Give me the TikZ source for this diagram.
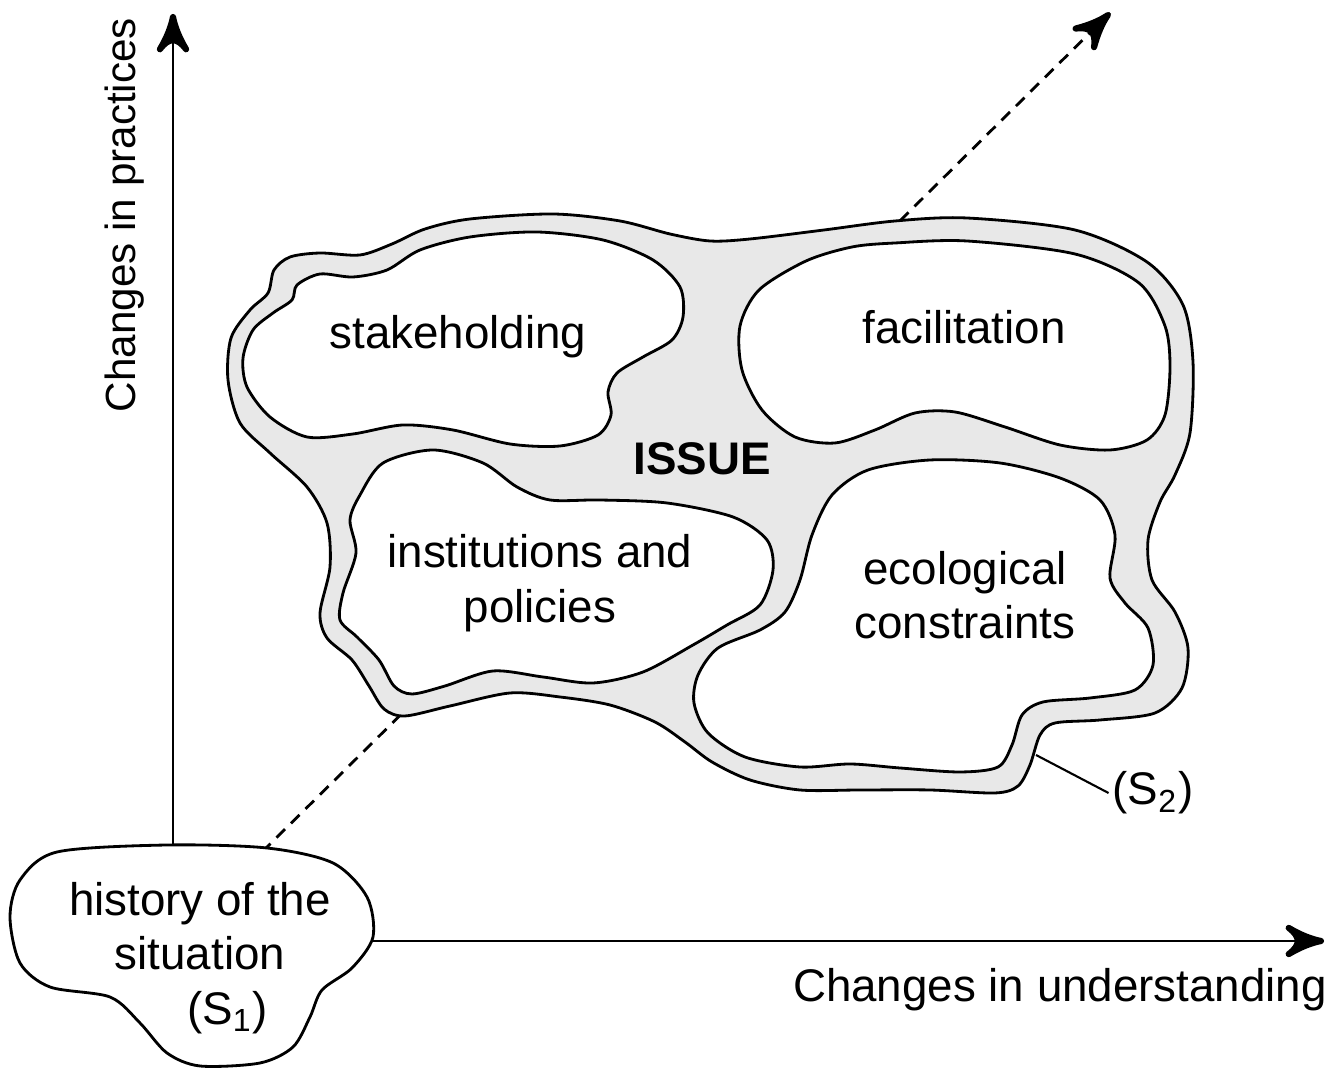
\documentclass[tikz,border=0pt]{standalone}
\usepackage{fontspec}
\setmainfont{Liberation Sans}
\usetikzlibrary{decorations.markings}
\usetikzlibrary{arrows}
\definecolor{issuegray}{gray}{0.91}
\tikzset{endarrow/.style = {decoration={markings,
                                  mark=at position 1 with {\arrow[scale=2.2, solid]{stealth'}}},
                      postaction={decorate}}}
\tikzset{blob/.style = {draw, line width = 0.8pt, fill = white}}
\tikzset{txt/.style = {font = \fontsize{13}{15.5}\selectfont, align = center, inner sep = 1pt}}

\begin{document}
\begin{tikzpicture}[x=0.01cm, y=-0.01cm]
      \useasboundingbox (0, 0) rectangle (1336, 1068);

      \coordinate (dashstart) at (262, 852);
      \coordinate (dashend) at (1110, 13);
      \draw [endarrow, dashed, dash pattern = on 3.4pt off 2.4pt, line width = 0.8pt] (dashstart) -- (dashend);

      \draw [blob, fill = issuegray] plot [smooth cycle] coordinates {(274, 270) (290, 257) (320, 253) (360, 255) (392, 244) (425, 229) (470, 219) (553, 214) (620, 221) (670, 234) (710, 241) (750, 239) (824, 230) (895, 221) (967, 218) (1075, 230) (1147, 262) (1183, 305) (1193, 362) (1190, 433) (1175, 475) (1160, 502) (1148, 540) (1152, 580) (1175, 612) (1188, 648) (1182, 688) (1155, 713) (1100, 720) (1055, 723) (1040, 735) (1030, 765) (1018, 786) (995, 793) (930, 790) (860, 790) (800, 790) (750, 780) (712, 762) (685, 742) (655, 722) (610, 705) (560, 697) (510, 693) (450, 706) (405, 716) (384, 709) (369, 686) (352, 660) (327, 638) (320, 613) (330, 567) (327, 523) (307, 487) (270, 453) (240, 423) (228, 380) (231, 338) (250, 310) (268, 293)};

      \draw [blob] plot [smooth cycle] coordinates {(297, 285) (320, 274) (353, 277) (387, 270) (420, 250) (470, 237) (537, 232) (603, 240) (653, 260) (680, 287) (683, 317) (672, 340) (643, 357) (617, 373) (608, 392) (611, 415) (598, 435) (560, 446) (510, 444) (453, 430) (403, 425) (353, 434) (307, 437) (270, 417) (247, 387) (243, 358) (253, 330) (273, 313) (292, 300)};

      \draw [blob] plot [smooth cycle] coordinates {(852, 247) (895, 243) (967, 241) (1075, 254) (1139, 283) (1165, 326) (1170, 367) (1165, 415) (1147, 440) (1110, 450) (1060, 445) (1005, 427) (955, 412) (915, 413) (875, 430) (835, 443) (795, 437) (762, 410) (742, 370) (740, 326) (759, 290) (806, 261)};

      \draw [blob] plot [smooth cycle] coordinates {(360, 495) (383, 463) (433, 450) (483, 463) (517, 487) (550, 500) (600, 500) (667, 503) (733, 517) (767, 540) (773, 570) (760, 605) (727, 625) (693, 645) (643, 672) (593, 683) (543, 677) (493, 671) (445, 686) (412, 694) (394, 686) (379, 660) (357, 637) (340, 620) (343, 593) (356, 553) (350, 520)};

      \draw [blob] plot [smooth cycle] coordinates {(868, 470) (930, 460) (1000, 463) (1060, 478) (1100, 500) (1115, 535) (1110, 578) (1125, 603) (1148, 628) (1153, 665) (1135, 690) (1090, 698) (1043, 702) (1022, 715) (1012, 745) (998, 767) (960, 772) (900, 768) (850, 764) (800, 767) (745, 757) (708, 733) (694, 703) (698, 675) (718, 648) (760, 630) (785, 612) (800, 580) (812, 535) (832, 495)};

      \draw [blob] plot [smooth cycle] coordinates {(20, 880) (57, 852) (167, 845) (267, 848) (333, 863) (367, 897) (373, 937) (352, 968) (322, 990) (310, 1017) (293, 1047) (260, 1063) (200, 1066) (167, 1053) (140, 1023) (110, 997) (50, 987) (20, 963) (10, 917)};

      \coordinate (s1top) at (173, 845);
      \coordinate (ytip) at (173, 14);
      \coordinate (s1right) at (372, 941);
      \coordinate (xtip) at (1324, 941);
      \draw [endarrow, line width = 0.8pt] (s1top) -- (ytip);
      \draw [endarrow, line width = 0.8pt] (s1right) -- (xtip);

      \node [txt] (stake) at (458, 337) {stakeholding};
      \node [txt] (facil) at (964, 327) {facilitation};
      \node [txt, font = \fontsize{13}{15.5}\selectfont\bfseries] (issue) at (702, 459) {ISSUE};
      \node [txt] (inst) at (540, 583) {institutions and\\policies};
      \node [txt] (eco) at (965, 595) {ecological\\constraints};
      \node [txt] (hist) at (200, 958) {history of the\\situation\\\hspace*{1.2em}(S\textsubscript{1})};

      \node [txt] (stwo) at (1153, 793) {(S\textsubscript{2})};
      \coordinate (s2edge) at (1036, 755);
      \draw [line width = 0.6pt] (s2edge) -- (stwo.west);

      \node [txt] (xlab) at (1060, 990) {Changes in understanding};
      \node [txt, rotate = 90, font = \fontsize{12}{14}\selectfont] (ylab) at (125, 215) {Changes in practices};
    \end{tikzpicture}
\end{document}
